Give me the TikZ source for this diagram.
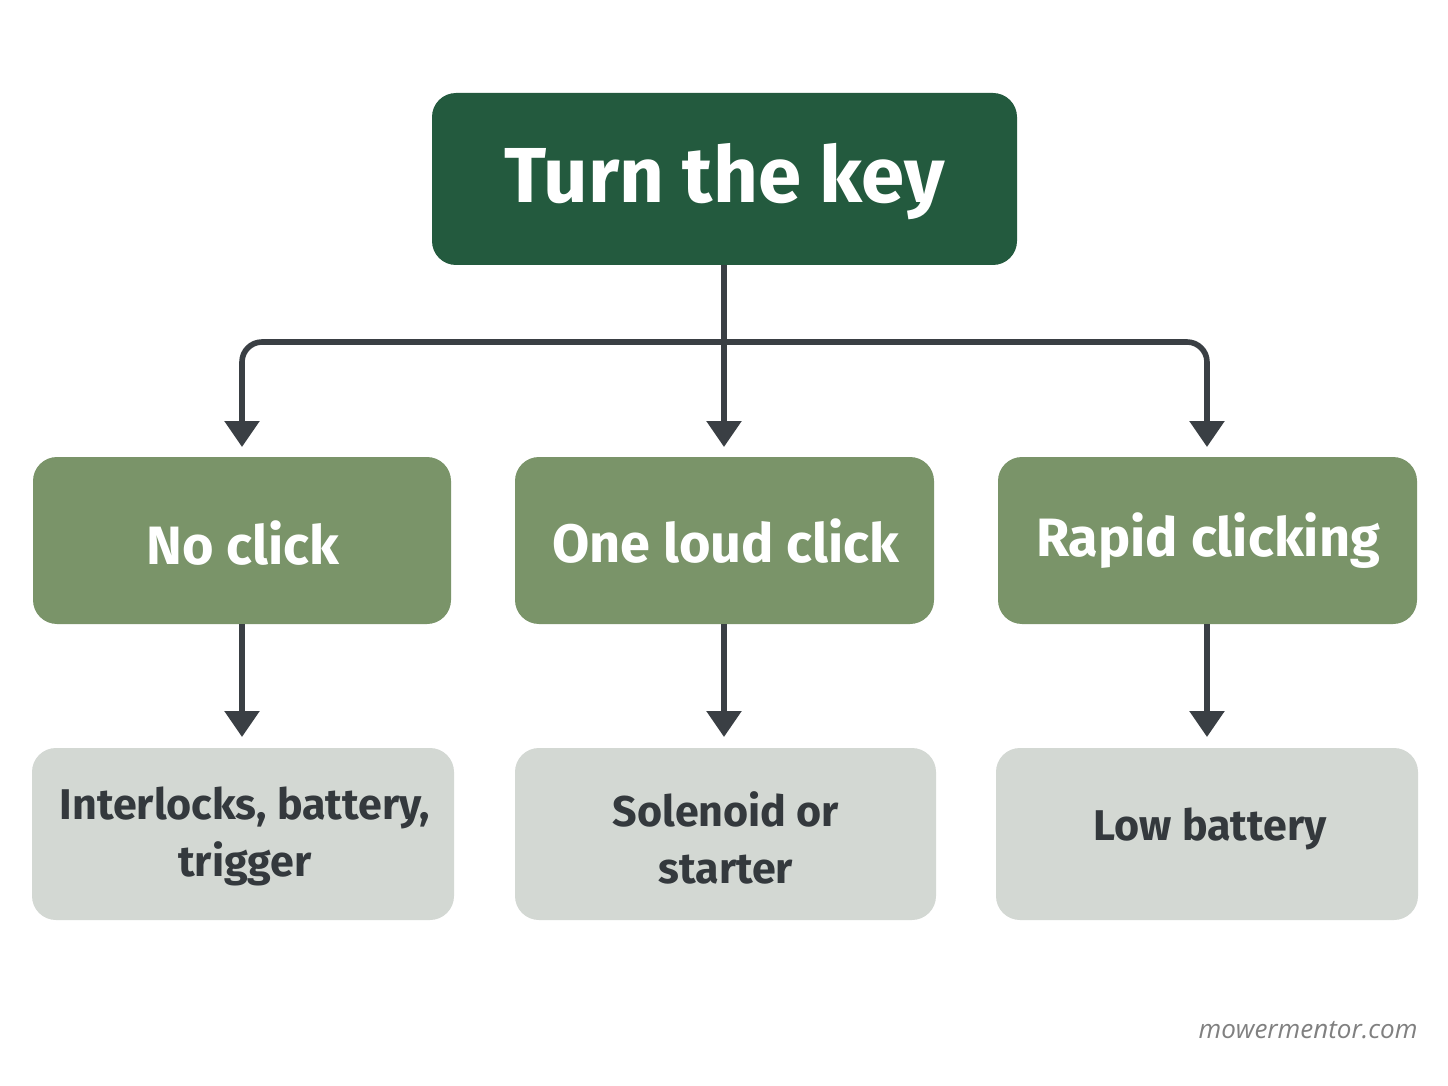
\documentclass[tikz,border=0pt]{standalone}
\usepackage{fontspec}
\setmainfont{Fira Sans}
\newfontfamily\wmfont{Open Sans}
\usetikzlibrary{arrows.meta}
\definecolor{dg}{HTML}{235A3E}
\definecolor{mg}{HTML}{7A9469}
\definecolor{lg}{HTML}{D3D8D3}
\definecolor{ln}{HTML}{3A3F44}
\begin{document}
\begin{tikzpicture}[x=0.5pt,y=-0.5pt,
 box/.style={rounded corners=12pt,draw=none},
 ar/.style={draw=ln,line width=2.8pt,-{Triangle[length=13pt,width=17pt]}},
 mt/.style={font=\fontsize{27}{32}\selectfont\bfseries,text=white,align=center},
 bt/.style={font=\fontsize{21.5}{28.5}\selectfont\bfseries,text=ln!90!black,align=center}]
\useasboundingbox (0,0) rectangle (1448,1086);
\fill[white] (0,0) rectangle (1448,1086);
\fill[box,fill=dg] (432,93) rectangle (1017,265);
\node[font=\fontsize{39}{46}\selectfont\bfseries,text=white] (top) at (724.5,182) {Turn the key};
\coordinate (tb) at (724,265);
\coordinate (jn) at (724,342);
\foreach \n/\x/\l/\r in {a/242/33/451,b/724/515/934,c/1207/998/1417}{
 \fill[box,fill=mg] (\l,457) rectangle (\r,624);
 \coordinate (m\n) at (\x,447);
 \coordinate (mb\n) at (\x,624);
 \coordinate (l\n) at (\x,737);
 \draw[ar] (mb\n) -- (l\n);
}
\fill[box,fill=lg] (32,748) rectangle (454,920);
\fill[box,fill=lg] (515,748) rectangle (936,920);
\fill[box,fill=lg] (996,748) rectangle (1418,920);
\node[mt] (n1) at (243,543) {No click};
\node[mt] (n2) at (726,541) {One loud click};
\node[mt] (n3) at (1208,541) {Rapid clicking};
\node[bt] (b1) at (245,836) {Interlocks, battery,\\trigger};
\node[bt] (b2) at (726,838) {Solenoid or\\starter};
\node[bt] (b3) at (1210,829) {Low battery};
\draw[ar] (tb) -- (mb);
\draw[ar,rounded corners=10pt] (jn) -| (ma);
\draw[ar,rounded corners=10pt] (jn) -| (mc);
\node[font=\wmfont\fontsize{13}{15}\selectfont\itshape,text=gray] (wm) at (1308,1030) {mowermentor.com};
\end{tikzpicture}
\end{document}
